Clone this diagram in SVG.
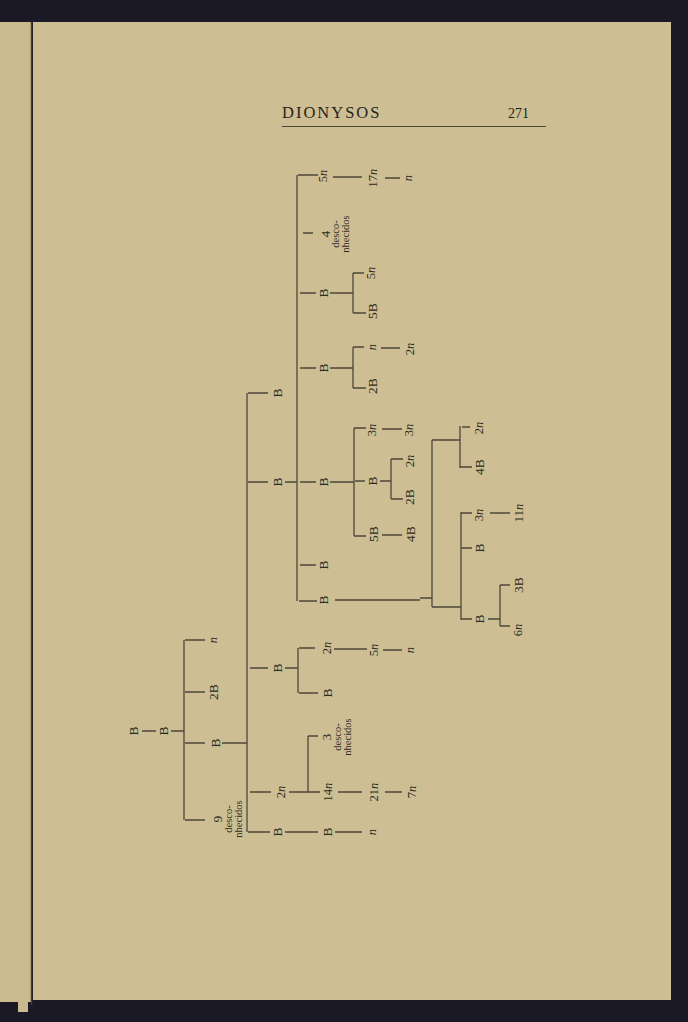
<svg xmlns="http://www.w3.org/2000/svg" width="688" height="1022" viewBox="0 0 688 1022">
<style>
.ln{fill:none;stroke:#4d473b;stroke-width:1.3}
.t{font-family:"Liberation Serif","DejaVu Serif",serif;fill:#2e2a22;text-anchor:middle;dominant-baseline:central}
.b{font-size:13.5px}
.s{font-size:12.5px}
.d{font-size:10.5px}
.i{font-style:italic}
</style>
<g id="page">
<rect x="0" y="0" width="688" height="1022" fill="#1b1926"/>
<rect x="0" y="22" width="31" height="980" fill="#c9bb8e"/>
<rect x="18" y="1000" width="10" height="12" fill="#c9bb8f"/>
<rect x="33" y="22" width="638" height="978" fill="#cdbf93"/>
<line x1="31.5" y1="22" x2="31.5" y2="1005" stroke="#4b3d2a" stroke-width="1.5"/>
</g>
<g id="header">
<text x="282" y="118" font-family="Liberation Serif, serif" font-size="16.5" letter-spacing="2" fill="#26231d">DIONYSOS</text>
<text x="508" y="118" font-family="Liberation Serif, serif" font-size="14" fill="#26231d">271</text>
<line x1="282" y1="126.5" x2="546" y2="126.5" stroke="#4d473b" stroke-width="1"/>
</g>
<g id="connectors">
<path class="ln" d="M142,731H156 M171,731H184 M184,640V820 M185,640H205 M185,692H205 M185,743H205 M222,743H247 M185,820H205
M247,393V832 M248,393H268 M248,482H268 M285,482H297 M250,668H268 M285,668H298 M250,792H271 M289,792H308 M248,832H270 M285,832H318 M335,832H362
M298,648V693 M299,648H315 M334,649H367 M383,650H402 M299,693H318
M308,736V792 M308,736H318 M308,792H320 M338,792H362 M385,792H402
M297,175V601 M298,175H318 M333,177H362 M385,178H400 M303,233H313
M300,293H316 M330,293H353 M353,273V313 M353,273H364 M353,313H366
M300,368H316 M330,368H353 M353,347V388 M353,347H364 M381,348H400 M353,388H366
M300,482H316 M330,482H354 M354,428V536 M354,428H366 M382,429H402 M355,481H365 M380,481H391 M391,459V499 M391,459H403 M391,499H403 M354,536H366 M382,535H402
M300,565H316 M299,601H317 M335,600H420 M420,598H432
M432,440V607 M432,440H460 M432,607H461
M460,426V468 M462,427H470 M460,467H472
M461,512V620 M461,513H472 M490,513H510 M461,548H472 M461,619H472 M488,619H500 M500,585V626 M500,585H510 M500,626H510"/>
</g>
<g id="n1"><text class="t b" transform="translate(133,731) rotate(-90)">B</text></g>
<g id="n2"><text class="t b" transform="translate(163,731) rotate(-90)">B</text></g>
<g id="n3"><text class="t s i" transform="translate(213,640) rotate(-90)">n</text></g>
<g id="n4"><text class="t b" transform="translate(213,692) rotate(-90)">2B</text></g>
<g id="n5"><text class="t b" transform="translate(215,743) rotate(-90)">B</text></g>
<g id="n6">
<text class="t b" transform="translate(217,819) rotate(-90)">9</text>
<text class="t d" transform="translate(228,819) rotate(-90)">desco-</text>
<text class="t d" transform="translate(238,819) rotate(-90)">nhecidos</text>
</g>
<g id="n7"><text class="t b" transform="translate(277,393) rotate(-90)">B</text></g>
<g id="n8"><text class="t b" transform="translate(277,482) rotate(-90)">B</text></g>
<g id="n9"><text class="t b" transform="translate(277,668) rotate(-90)">B</text></g>
<g id="n10"><text class="t s" transform="translate(281,792) rotate(-90)">2<tspan class="i">n</tspan></text></g>
<g id="n11"><text class="t b" transform="translate(277,832) rotate(-90)">B</text></g>
<g id="n12"><text class="t b" transform="translate(327,832) rotate(-90)">B</text></g>
<g id="n13"><text class="t s i" transform="translate(372,832) rotate(-90)">n</text></g>
<g id="n14"><text class="t s" transform="translate(327,648) rotate(-90)">2<tspan class="i">n</tspan></text></g>
<g id="n15"><text class="t s" transform="translate(374,650) rotate(-90)">5<tspan class="i">n</tspan></text></g>
<g id="n16"><text class="t s i" transform="translate(410,650) rotate(-90)">n</text></g>
<g id="n17"><text class="t b" transform="translate(327,693) rotate(-90)">B</text></g>
<g id="n18">
<text class="t b" transform="translate(326,737) rotate(-90)">3</text>
<text class="t d" transform="translate(337,737) rotate(-90)">desco-</text>
<text class="t d" transform="translate(347,737) rotate(-90)">nhecidos</text>
</g>
<g id="n19"><text class="t s" transform="translate(328,792) rotate(-90)">14<tspan class="i">n</tspan></text></g>
<g id="n20"><text class="t s" transform="translate(374,792) rotate(-90)">21<tspan class="i">n</tspan></text></g>
<g id="n21"><text class="t s" transform="translate(412,792) rotate(-90)">7<tspan class="i">n</tspan></text></g>
<g id="n22"><text class="t s" transform="translate(323,176) rotate(-90)">5<tspan class="i">n</tspan></text></g>
<g id="n23"><text class="t s" transform="translate(373,178) rotate(-90)">17<tspan class="i">n</tspan></text></g>
<g id="n24"><text class="t s i" transform="translate(408,178) rotate(-90)">n</text></g>
<g id="n25">
<text class="t b" transform="translate(325,234) rotate(-90)">4</text>
<text class="t d" transform="translate(335,234) rotate(-90)">desco-</text>
<text class="t d" transform="translate(345,234) rotate(-90)">nhecidos</text>
</g>
<g id="n26"><text class="t b" transform="translate(323,293) rotate(-90)">B</text></g>
<g id="n27"><text class="t s" transform="translate(371,273) rotate(-90)">5<tspan class="i">n</tspan></text></g>
<g id="n28"><text class="t b" transform="translate(372,311) rotate(-90)">5B</text></g>
<g id="n29"><text class="t b" transform="translate(323,368) rotate(-90)">B</text></g>
<g id="n30"><text class="t s i" transform="translate(372,347) rotate(-90)">n</text></g>
<g id="n31"><text class="t s" transform="translate(410,349) rotate(-90)">2<tspan class="i">n</tspan></text></g>
<g id="n32"><text class="t b" transform="translate(372,386) rotate(-90)">2B</text></g>
<g id="n33"><text class="t b" transform="translate(323,482) rotate(-90)">B</text></g>
<g id="n34"><text class="t s" transform="translate(372,430) rotate(-90)">3<tspan class="i">n</tspan></text></g>
<g id="n35"><text class="t s" transform="translate(409,430) rotate(-90)">3<tspan class="i">n</tspan></text></g>
<g id="n36"><text class="t b" transform="translate(372,481) rotate(-90)">B</text></g>
<g id="n37"><text class="t s" transform="translate(410,461) rotate(-90)">2<tspan class="i">n</tspan></text></g>
<g id="n38"><text class="t b" transform="translate(409,497) rotate(-90)">2B</text></g>
<g id="n39"><text class="t b" transform="translate(373,534) rotate(-90)">5B</text></g>
<g id="n40"><text class="t b" transform="translate(410,534) rotate(-90)">4B</text></g>
<g id="n41"><text class="t b" transform="translate(323,565) rotate(-90)">B</text></g>
<g id="n42"><text class="t b" transform="translate(323,600) rotate(-90)">B</text></g>
<g id="n43"><text class="t s" transform="translate(479,428) rotate(-90)">2<tspan class="i">n</tspan></text></g>
<g id="n44"><text class="t b" transform="translate(479,467) rotate(-90)">4B</text></g>
<g id="n45"><text class="t s" transform="translate(479,515) rotate(-90)">3<tspan class="i">n</tspan></text></g>
<g id="n46"><text class="t s" transform="translate(519,513) rotate(-90)">11<tspan class="i">n</tspan></text></g>
<g id="n47"><text class="t b" transform="translate(479,548) rotate(-90)">B</text></g>
<g id="n48"><text class="t b" transform="translate(479,619) rotate(-90)">B</text></g>
<g id="n49"><text class="t b" transform="translate(518,585) rotate(-90)">3B</text></g>
<g id="n50"><text class="t s" transform="translate(518,630) rotate(-90)">6<tspan class="i">n</tspan></text></g>
</svg>
